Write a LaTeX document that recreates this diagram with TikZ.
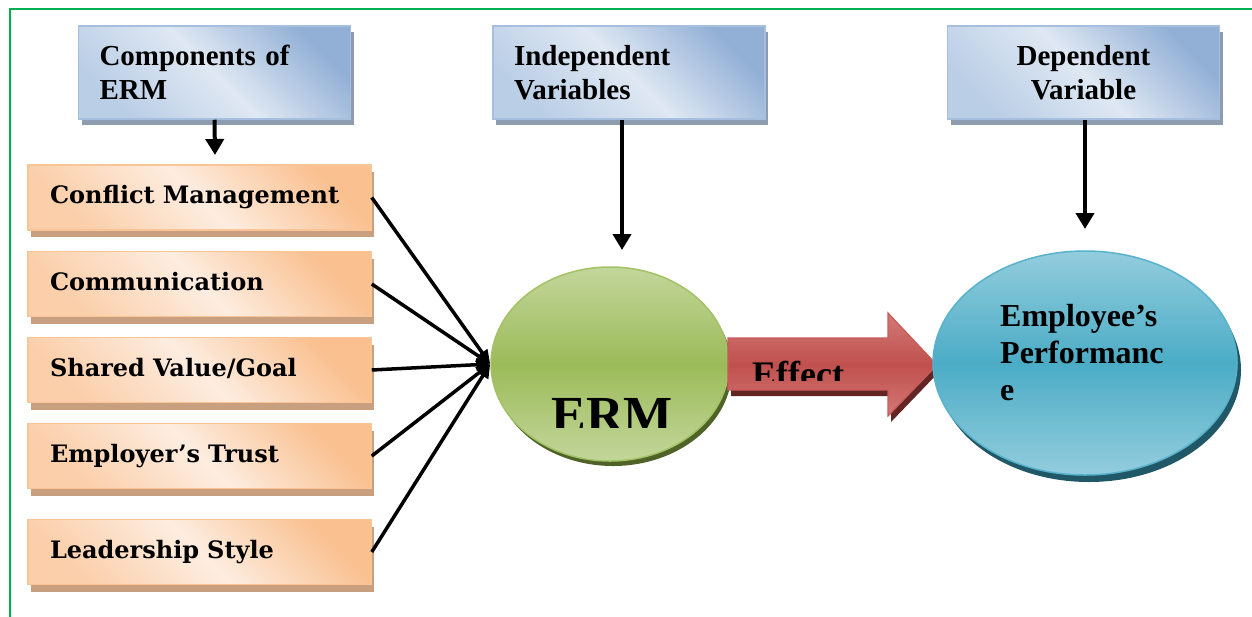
\documentclass[tikz,border=0pt]{standalone}
\usepackage{fontspec}
\setmainfont{Liberation Serif}
\newfontfamily\heavyserif{DejaVu Serif}
\usetikzlibrary{arrows.meta,shapes.geometric,shadows}

\definecolor{framegreen}{HTML}{00B050}
\definecolor{bluedark}{HTML}{92B0D6}
\definecolor{bluemid}{HTML}{BACEE6}
\definecolor{bluelight}{HTML}{DFE8F3}
\definecolor{blueline}{HTML}{A7BFDE}
\definecolor{blueshadow}{HTML}{8E9CB2}
\definecolor{orangedark}{HTML}{FAC090}
\definecolor{orangemid}{HTML}{FBCFAA}
\definecolor{orangelight}{HTML}{FDEDE0}
\definecolor{orangeline}{HTML}{F9C597}
\definecolor{orangeshadow}{HTML}{C9A07F}
\definecolor{greenlight}{HTML}{C3D69B}
\definecolor{greenmid}{HTML}{9BBB59}
\definecolor{greenline}{HTML}{A3C265}
\definecolor{greenshadow}{HTML}{4F6228}
\definecolor{redlight}{HTML}{D27A78}
\definecolor{redmid}{HTML}{C0504D}
\definecolor{redline}{HTML}{C85A57}
\definecolor{redshadow}{HTML}{632523}
\definecolor{teallight}{HTML}{93CDDD}
\definecolor{tealmid}{HTML}{4BACC6}
\definecolor{tealline}{HTML}{58B2CB}
\definecolor{tealshadow}{HTML}{215868}

\tikzset{
  headbox/.style={draw=blueline, line width=1.5pt, inner sep=0pt,
    minimum width=272pt, minimum height=93pt, text width=230pt,
    left color=bluemid, right color=bluedark, middle color=bluelight,
    shading angle=135,
    drop shadow={shadow xshift=3pt, shadow yshift=-6pt, fill=blueshadow, opacity=1},
    font=\bfseries\fontsize{29}{34}\selectfont},
  factorbox/.style={draw=orangeline, line width=1.5pt, inner sep=0pt,
    minimum width=343pt, minimum height=65pt, text width=299pt, align=left,
    left color=orangemid, right color=orangedark, middle color=orangelight,
    shading angle=135,
    drop shadow={shadow xshift=3pt, shadow yshift=-7pt, fill=orangeshadow, opacity=1},
    text height=18pt, text depth=5.5pt,
    font=\heavyserif\bfseries\fontsize{24}{28}\selectfont},
  oval/.style={ellipse, inner sep=0pt, line width=1.5pt},
  thickarrow/.style={line width=4pt, -{Triangle[width=18pt,length=16pt]}},
  feeder/.style={line width=3.5pt, -{Triangle[width=12pt,length=14pt]}},
}

\begin{document}
\begin{tikzpicture}[x=1pt, y=-1pt]
\useasboundingbox (0,0) rectangle (1252,616);

% frame
\draw[framegreen, line width=2pt] (10,620) -- (10,9) -- (1256,9);

% heading boxes
\node[headbox, align=left] (comp) at (214.5,72.5) {Components of\\ERM};
\node[headbox, align=left] (indep) at (629,72.5) {Independent\\Variables};
\node[headbox, align=center] (dep) at (1083.5,72.5) {Dependent\\Variable};

% factor boxes
\node[factorbox] (f1) at (199.5,197.5) {Conflict Management};
\node[factorbox] (f2) at (199.5,284) {Communication};
\node[factorbox] (f3) at (199.5,370) {Shared Value/Goal};
\node[factorbox] (f4) at (199.5,456) {Employer’s Trust};
\node[factorbox] (f5) at (199.5,552) {Leadership Style};

% central construct
\node[oval, draw=greenline, minimum width=238pt, minimum height=194pt,
  top color=greenlight, bottom color=greenlight, middle color=greenmid,
  drop shadow={shadow xshift=3pt, shadow yshift=-5pt, fill=greenshadow, opacity=1}]
  (erm) at (610,364) {};
\begin{scope}
  \clip (530,380) rectangle (700,427);
  \node[anchor=base, inner sep=0pt, font=\bfseries\fontsize{52}{60}\selectfont]
    (ermlabel) at (612,432) {ERM};
\end{scope}

% effect arrow
\path[draw=redline, line width=1.2pt,
  top color=redlight, bottom color=redlight, middle color=redmid,
  drop shadow={shadow xshift=3pt, shadow yshift=-6pt, fill=redshadow, opacity=1}]
  (728,338) -- (888,338) -- (888,313) -- (937,365) -- (888,416) -- (888,390)
  -- (728,390) -- cycle;
\begin{scope}
  \clip (740,350) rectangle (860,380);
  \node[anchor=base west, inner sep=0pt, font=\bfseries\fontsize{36}{40}\selectfont]
    (effect) at (752,386) {Effect};
\end{scope}

% outcome
\node[oval, draw=tealline, minimum width=304pt, minimum height=224pt,
  top color=teallight, bottom color=teallight, middle color=tealmid,
  drop shadow={shadow xshift=4pt, shadow yshift=-7pt, fill=tealshadow, opacity=1}]
  (perf) at (1085,363) {};
\node[anchor=north west, inner sep=0pt, align=left,
  font=\bfseries\fontsize{32}{37}\selectfont]
  (perflabel) at (1000,304) {Employee’s\\Performanc\\e};

% connectors
\coordinate (compend) at (215,155);
\coordinate (independ) at (622,250);
\coordinate (depend) at (1085,229);
\draw[thickarrow] (comp.south) -- (compend);
\draw[thickarrow] ([xshift=-7pt]indep.south) -- (independ);
\draw[thickarrow] ([xshift=1.5pt]dep.south) -- (depend);

\foreach \f in {f1,f2,f3,f4,f5}
  \draw[feeder] (\f.east) -- (erm.west);
\end{tikzpicture}
\end{document}
